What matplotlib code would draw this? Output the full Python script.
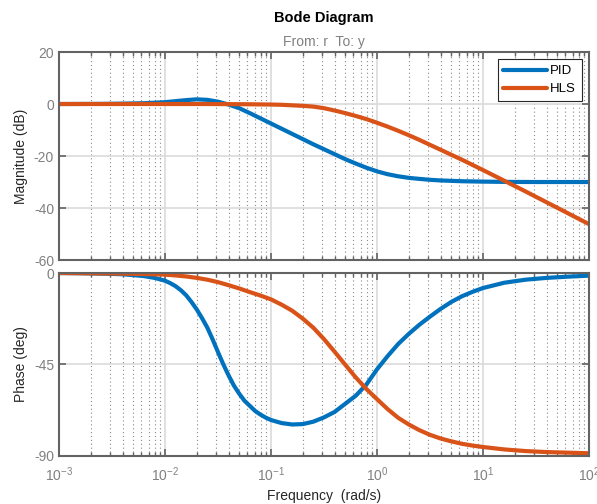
import numpy as np
import matplotlib
matplotlib.use('Agg')
import matplotlib.pyplot as plt
from matplotlib.ticker import LogLocator, NullFormatter, FixedLocator

plt.rcParams['font.family'] = ['Liberation Sans', 'DejaVu Sans']
plt.rcParams['mathtext.fontset'] = 'custom'
plt.rcParams['mathtext.rm'] = 'Liberation Sans'
plt.rcParams['mathtext.it'] = 'Liberation Sans'
plt.rcParams['axes.unicode_minus'] = False

# frequencies as log10(rad/s)
pid_mag_logw = [-3.0, -2.6, -2.4, -2.2, -2.0, -1.9, -1.8, -1.7, -1.6, -1.5, -1.4, -1.3,
                -1.2, -1.1, -1.0, -0.9, -0.8, -0.6, -0.4, -0.3, -0.2, -0.1, 0.0, 0.1,
                0.2, 0.3, 0.4, 0.5, 0.6, 0.8, 1.0, 1.2, 1.5, 2.0]
pid_mag = [0.0, 0.05, 0.15, 0.3, 0.7, 1.1, 1.5, 1.8, 1.6, 0.9, -0.2, -1.6,
           -3.5, -5.5, -7.5, -9.5, -11.5, -15.5, -19.3, -21.2, -22.9, -24.5, -25.9, -27.0,
           -27.8, -28.4, -28.8, -29.15, -29.4, -29.7, -29.85, -29.95, -30.0, -30.0]

hls_mag_logw = [-3.0, -2.0, -1.6, -1.4, -1.2, -1.0, -0.9, -0.8, -0.7, -0.6, -0.5, -0.4,
                -0.3, -0.2, -0.1, 0.0, 0.1, 0.2, 0.3, 0.4, 0.5, 0.6, 0.7, 0.8,
                0.9, 1.0, 1.2, 1.4, 1.6, 1.8, 2.0]
hls_mag = [0.0, 0.0, 0.0, -0.05, -0.1, -0.2, -0.3, -0.5, -0.7, -1.0, -1.6, -2.5,
           -3.5, -4.6, -5.8, -7.2, -8.7, -10.3, -12.0, -13.8, -15.7, -17.6, -19.5, -21.4,
           -23.4, -25.4, -29.5, -33.6, -37.8, -42.0, -46.2]

pid_ph_logw = [-3.0, -2.8, -2.6, -2.4, -2.2, -2.1, -2.0, -1.95, -1.9, -1.85, -1.8, -1.75,
               -1.7, -1.65, -1.6, -1.55, -1.5, -1.45, -1.4, -1.35, -1.3, -1.25, -1.2, -1.15,
               -1.1, -1.05, -1.0, -0.9, -0.8, -0.7, -0.6, -0.5, -0.4, -0.3, -0.2, -0.1,
               0.0, 0.1, 0.2, 0.3, 0.4, 0.5, 0.6, 0.7, 0.8, 0.9, 1.0,
               1.2, 1.4, 1.6, 1.8, 2.0]
pid_ph = [0.0, -0.1, -0.3, -0.6, -1.5, -2.4, -3.8, -5.0, -6.5, -8.5, -11.0, -14.3,
          -18.0, -22.3, -27.0, -32.8, -39.0, -45.0, -50.5, -55.5, -59.5, -63.0, -65.5, -68.0,
          -69.8, -71.3, -72.5, -74.0, -74.7, -74.5, -73.3, -71.2, -68.5, -64.5, -60.5, -55.0,
          -47.5, -41.0, -35.0, -30.0, -25.5, -21.5, -17.7, -14.3, -11.5, -9.3, -7.4,
          -4.8, -3.3, -2.4, -1.8, -1.3]

hls_ph_logw = [-3.0, -2.8, -2.6, -2.4, -2.2, -2.0, -1.9, -1.8, -1.7, -1.6, -1.5, -1.4,
               -1.3, -1.2, -1.1, -1.0, -0.9, -0.8, -0.7, -0.6, -0.5, -0.4, -0.3, -0.2,
               -0.1, 0.0, 0.1, 0.2, 0.3, 0.4, 0.5, 0.6, 0.7, 0.8, 0.9, 1.0,
               1.2, 1.4, 1.6, 1.8, 2.0]
hls_ph = [0.0, -0.1, -0.2, -0.3, -0.5, -0.8, -1.2, -1.7, -2.4, -3.3, -4.5, -6.0,
          -7.6, -9.4, -11.1, -13.0, -15.6, -18.6, -22.5, -27.0, -32.6, -38.8, -45.2, -51.5,
          -57.2, -62.2, -67.1, -71.4, -74.7, -77.5, -79.8, -81.6, -83.0, -84.2, -85.1, -85.8,
          -87.0, -87.8, -88.3, -88.6, -88.9]

series_labels = ['PID', 'HLS']
mag_ticks = [20, 0, -20, -40, -60]
phase_ticks = [0, -45, -90]

BLUE = '#0072BD'
ORANGE = '#D95319'
AX_COL = '#636363'
TXT_GRAY = '#808080'


def _style(ax):
    ax.set_xscale('log')
    ax.set_xlim(1e-3, 1e2)
    for s in ax.spines.values():
        s.set_color(AX_COL)
        s.set_linewidth(1.5)
    ax.xaxis.set_major_locator(LogLocator(base=10, numticks=10))
    ax.xaxis.set_minor_locator(LogLocator(base=10, subs=np.arange(2, 10), numticks=20))
    ax.xaxis.set_minor_formatter(NullFormatter())
    ax.tick_params(which='both', direction='in', top=True, right=True,
                   colors=AX_COL, labelcolor=TXT_GRAY, labelsize=10)
    ax.tick_params(which='major', length=5, width=1.2)
    ax.tick_params(which='minor', length=3, width=1.0)
    ax.tick_params(axis='x', which='major', pad=7)
    ax.grid(True, which='major', color='#dadada', linestyle='-', linewidth=1.2)
    ax.grid(True, which='minor', axis='x', color='#8a8a8a', linestyle=(0, (1, 2.5)),
            linewidth=0.8)
    ax.set_axisbelow(True)


fig = plt.figure(figsize=(5.97, 5.04), dpi=100)
ax1 = fig.add_axes([0.0988, 0.4841, 0.8878, 0.4127])
ax2 = fig.add_axes([0.0988, 0.0962, 0.8878, 0.3621])

line_kw = dict(lw=3, solid_joinstyle='round', solid_capstyle='round')
ax1.plot(10 ** np.array(pid_mag_logw), pid_mag, color=BLUE, label=series_labels[0], **line_kw)
ax1.plot(10 ** np.array(hls_mag_logw), hls_mag, color=ORANGE, label=series_labels[1], **line_kw)
_style(ax1)
ax1.set_ylim(-60, 20)
ax1.yaxis.set_major_locator(FixedLocator(mag_ticks))
ax1.set_xticklabels([])
ax1.set_ylabel('Magnitude (dB)', fontsize=10, color='#262626')

leg = ax1.legend(loc='upper right', fontsize=9.5, handlelength=3.3, handletextpad=0.25,
                 borderpad=0.45, labelspacing=0.45, borderaxespad=0, fancybox=False,
                 framealpha=1, bbox_to_anchor=(0.987, 0.966))
leg.get_frame().set_edgecolor('#262626')
leg.get_frame().set_linewidth(0.8)

ax2.plot(10 ** np.array(pid_ph_logw), pid_ph, color=BLUE, **line_kw)
ax2.plot(10 ** np.array(hls_ph_logw), hls_ph, color=ORANGE, **line_kw)
_style(ax2)
ax2.set_ylim(-90, 0)
ax2.yaxis.set_major_locator(FixedLocator(phase_ticks))
ax2.set_ylabel('Phase (deg)', fontsize=10, color='#262626')
ax2.set_xlabel('Frequency  (rad/s)', fontsize=10, color='#262626')

for ax in (ax1, ax2):
    ax.yaxis.set_label_coords(-0.058, 0.5)

fig.text(0.5425, 0.964, 'Bode Diagram', ha='center', va='center', fontsize=10.5,
         fontweight='bold', color='#000000')
fig.text(0.5425, 0.917, 'From: r  To: y', ha='center', va='center', fontsize=10,
         color=TXT_GRAY)

fig.savefig('out.png', dpi=100)
